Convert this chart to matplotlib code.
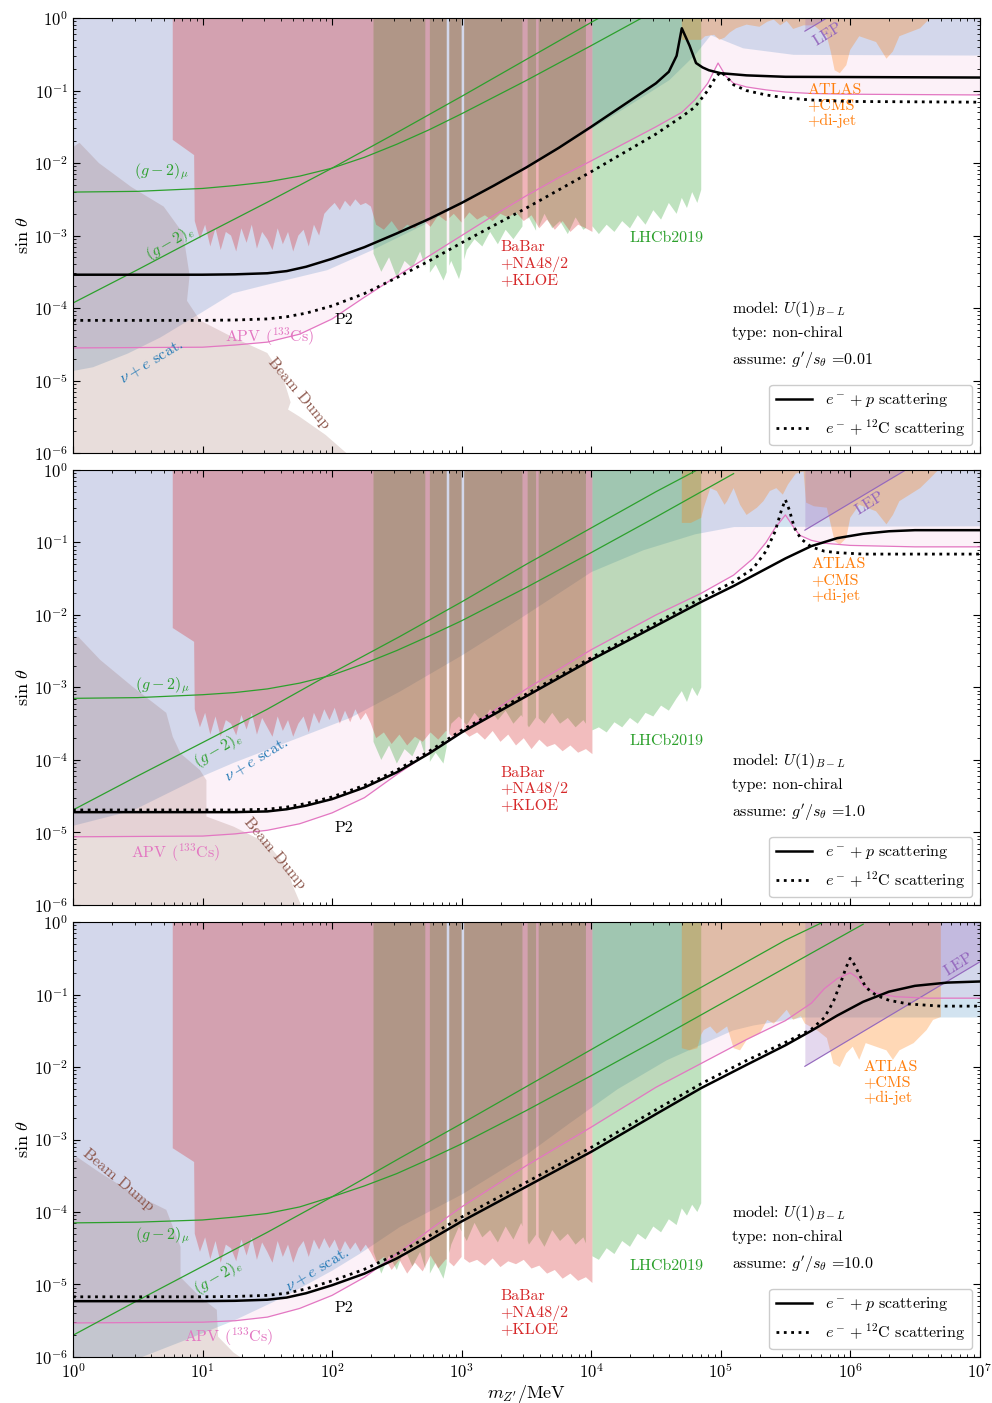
import numpy as np
import matplotlib
matplotlib.use("Agg")
import matplotlib.pyplot as plt

plt.rcParams['font.family'] = ['cmr10', 'DejaVu Serif']
plt.rcParams['mathtext.fontset'] = 'cm'
plt.rcParams['axes.formatter.use_mathtext'] = True
plt.rcParams['axes.unicode_minus'] = False

# all values are log10(m / MeV) and log10(sin theta)

couplings = ["0.01", "1.0", "10.0"]

# e- + p (solid) and e- + 12C (dotted) sensitivities
ep_x1 = [0, 1.0, 1.25, 1.5, 1.65, 1.8, 2.0, 2.25, 2.5, 2.75, 3.0, 3.25, 3.5, 3.75, 4.0, 4.2, 4.4, 4.5, 4.6, 4.66, 4.70, 4.76, 4.81, 4.86, 4.91, 5.0, 5.2, 5.5, 7]
ep_y1 = [-3.54, -3.54, -3.535, -3.52, -3.49, -3.43, -3.32, -3.16, -2.97, -2.77, -2.55, -2.31, -2.06, -1.79, -1.5, -1.26, -1.02, -0.90, -0.74, -0.52, -0.14, -0.38, -0.62, -0.68, -0.72, -0.76, -0.79, -0.81, -0.82]
ec_x1 = [0, 1.0, 1.25, 1.5, 1.65, 1.8, 2.0, 2.25, 2.5, 2.75, 3.0, 3.25, 3.5, 3.75, 4.0, 4.25, 4.5, 4.7, 4.8, 4.9, 4.96, 5.0, 5.04, 5.1, 5.2, 5.35, 5.5, 5.7, 6.0, 7]
ec_y1 = [-4.17, -4.17, -4.165, -4.15, -4.12, -4.07, -3.97, -3.80, -3.58, -3.35, -3.1, -2.86, -2.62, -2.37, -2.12, -1.86, -1.6, -1.36, -1.23, -1.0, -0.82, -0.74, -0.8, -0.92, -1.0, -1.06, -1.1, -1.13, -1.15, -1.16]

ep_x2 = [0, 1.0, 1.25, 1.5, 1.65, 1.8, 2.0, 2.25, 2.5, 2.75, 3.0, 3.5, 4.0, 4.5, 4.85, 5.1, 5.3, 5.5, 5.7, 5.9, 6.1, 6.3, 6.5, 7]
ep_y2 = [-4.72, -4.72, -4.72, -4.71, -4.68, -4.63, -4.54, -4.38, -4.17, -3.91, -3.62, -3.12, -2.62, -2.15, -1.82, -1.6, -1.41, -1.22, -1.05, -0.94, -0.88, -0.845, -0.83, -0.83]
ec_x2 = [0, 1.0, 1.25, 1.5, 1.65, 1.8, 2.0, 2.25, 2.5, 2.75, 3.0, 3.5, 4.0, 4.5, 4.85, 5.1, 5.25, 5.35, 5.42, 5.47, 5.50, 5.53, 5.57, 5.62, 5.7, 5.8, 5.9, 6.1, 7]
ec_y2 = [-4.69, -4.69, -4.69, -4.68, -4.65, -4.60, -4.51, -4.35, -4.14, -3.88, -3.59, -3.09, -2.59, -2.11, -1.77, -1.54, -1.36, -1.12, -0.85, -0.55, -0.41, -0.55, -0.8, -0.95, -1.06, -1.12, -1.14, -1.16, -1.16]

ep_x3 = [0, 1.0, 1.25, 1.5, 1.65, 1.8, 2.0, 2.25, 2.5, 2.75, 3.0, 3.5, 4.0, 4.5, 4.85, 5.2, 5.5, 5.7, 5.9, 6.1, 6.3, 6.5, 6.75, 7]
ep_y3 = [-5.23, -5.23, -5.225, -5.21, -5.18, -5.12, -5.01, -4.85, -4.64, -4.39, -4.13, -3.65, -3.17, -2.65, -2.29, -1.97, -1.70, -1.50, -1.29, -1.1, -0.96, -0.88, -0.835, -0.82]
ec_x3 = [0, 1.0, 1.25, 1.5, 1.65, 1.8, 2.0, 2.25, 2.5, 2.75, 3.0, 3.5, 4.0, 4.5, 4.85, 5.2, 5.5, 5.7, 5.8, 5.87, 5.93, 5.97, 6.0, 6.03, 6.07, 6.12, 6.2, 6.3, 6.45, 6.7, 7]
ec_y3 = [-5.17, -5.17, -5.165, -5.15, -5.12, -5.06, -4.95, -4.79, -4.58, -4.33, -4.07, -3.59, -3.11, -2.59, -2.23, -1.91, -1.66, -1.48, -1.32, -1.1, -0.82, -0.62, -0.5, -0.58, -0.72, -0.9, -1.01, -1.08, -1.13, -1.16, -1.16]

# APV (133Cs)
apv_x1 = [0, 1.0, 1.25, 1.5, 1.75, 2.0, 2.25, 2.5, 2.75, 3.0, 3.25, 3.5, 3.75, 4.0, 4.5, 4.7, 4.8, 4.9, 4.98, 5.04, 5.1, 5.2, 5.35, 5.5, 5.7, 6.0, 7]
apv_y1 = [-4.55, -4.54, -4.51, -4.47, -4.36, -4.15, -3.85, -3.56, -3.28, -3.0, -2.72, -2.45, -2.2, -1.97, -1.5, -1.3, -1.13, -0.9, -0.62, -0.8, -0.9, -0.95, -0.99, -1.02, -1.04, -1.05, -1.06]
apv_x2 = [0, 1.0, 1.25, 1.5, 1.75, 2.0, 2.25, 2.5, 2.75, 3.0, 3.5, 4.0, 4.5, 4.85, 5.1, 5.25, 5.35, 5.42, 5.50, 5.56, 5.61, 5.7, 5.8, 6.0, 6.5, 7]
apv_y2 = [-5.06, -5.05, -5.02, -4.97, -4.88, -4.73, -4.52, -4.2, -3.9, -3.62, -3.02, -2.48, -2.0, -1.7, -1.45, -1.22, -1.0, -0.8, -0.62, -0.78, -0.9, -0.97, -1.01, -1.04, -1.06, -1.06]
apv_x3 = [0, 1.0, 1.25, 1.5, 1.75, 2.0, 2.25, 2.5, 2.75, 3.0, 3.5, 4.0, 4.5, 4.85, 5.2, 5.5, 5.7, 5.8, 5.9, 6.0, 6.05, 6.1, 6.2, 6.35, 6.6, 7]
apv_y3 = [-5.53, -5.52, -5.5, -5.45, -5.33, -5.15, -4.9, -4.58, -4.25, -3.93, -3.36, -2.83, -2.28, -1.95, -1.62, -1.36, -1.12, -0.92, -0.78, -0.70, -0.76, -0.88, -0.98, -1.03, -1.05, -1.05]

# (g-2)_mu and (g-2)_e
g2mu_x1 = [0, 0.5, 1.0, 1.25, 1.5, 1.75, 2.0, 2.25, 2.5, 2.75, 3.0, 3.5, 4.0, 4.4]
g2mu_y1 = [-2.40, -2.39, -2.35, -2.31, -2.26, -2.18, -2.07, -1.92, -1.74, -1.54, -1.32, -0.86, -0.38, 0.01]
g2e_x1 = [0, 0.5, 1.0, 1.5, 2.0, 2.5, 3.0, 3.5, 4.0, 4.1]
g2e_y1 = [-3.93, -3.47, -3.0, -2.54, -2.07, -1.58, -1.08, -0.57, -0.06, 0.04]
g2mu_x2 = [0, 0.5, 1.0, 1.25, 1.5, 1.75, 2.0, 2.25, 2.5, 2.75, 3.0, 3.5, 4.0, 4.5, 5.1]
g2mu_y2 = [-3.15, -3.14, -3.10, -3.07, -3.02, -2.94, -2.83, -2.67, -2.49, -2.29, -2.08, -1.62, -1.14, -0.65, -0.05]
g2e_x2 = [0, 0.5, 1.0, 1.5, 2.0, 2.52, 3.0, 3.5, 4.0, 4.5, 4.85]
g2e_y2 = [-4.69, -4.22, -3.76, -3.30, -2.80, -2.30, -1.82, -1.3, -0.8, -0.3, 0.03]
g2mu_x3 = [0, 0.5, 1.0, 1.25, 1.5, 1.75, 2.0, 2.25, 2.5, 2.75, 3.0, 3.5, 4.0, 4.5, 5.0, 5.5, 6.1]
g2mu_y3 = [-4.15, -4.14, -4.11, -4.07, -4.02, -3.93, -3.79, -3.64, -3.47, -3.27, -3.06, -2.6, -2.12, -1.63, -1.13, -0.63, -0.03]
g2e_x3 = [0, 0.5, 1.0, 1.5, 2.0, 2.52, 3.0, 3.5, 4.0, 4.5, 5.0, 5.5, 5.85]
g2e_y3 = [-5.70, -5.22, -4.75, -4.28, -3.79, -3.26, -2.78, -2.27, -1.76, -1.25, -0.75, -0.25, 0.05]

# nu + e scattering: lower edge of excluded region
nue_x1 = [0, 0.15, 0.42, 0.67, 0.93, 1.23, 1.52, 1.96, 2.3, 2.7, 3.2, 3.7, 4.2, 4.6, 4.8, 4.92, 5.17, 5.56, 7]
nue_y1 = [-4.86, -4.81, -4.62, -4.40, -4.12, -3.79, -3.66, -3.47, -3.2, -2.85, -2.35, -1.85, -1.3, -0.85, -0.5, -0.23, -0.41, -0.5, -0.51]
nue_x2 = [0, 0.46, 0.98, 1.24, 1.75, 2.14, 2.52, 3.0, 3.4, 4.0, 4.4, 4.8, 5.1, 7]
nue_y2 = [-4.90, -4.69, -4.23, -4.03, -3.68, -3.41, -3.05, -2.55, -2.1, -1.4, -1.1, -0.88, -0.78, -0.77]
nue_x3 = [0, 0.52, 0.85, 1.24, 1.62, 2.0, 2.21, 2.52, 3.0, 3.5, 3.83, 4.2, 4.58, 5.09, 5.25, 5.63, 7]
nue_y3 = [-6.1, -6.0, -5.77, -5.49, -5.17, -4.8, -4.57, -4.2, -3.75, -3.2, -2.77, -2.3, -1.9, -1.49, -1.42, -1.31, -1.31]

# beam dump: upper edge
bd_x1 = [0, 0.05, 0.2, 0.45, 0.7, 0.85, 0.9, 0.88, 0.98, 1.23, 1.5, 1.62, 1.68, 1.66, 1.75, 1.95, 2.11]
bd_y1 = [-1.78, -1.72, -2.0, -2.33, -2.6, -2.97, -3.55, -3.9, -4.17, -4.4, -4.62, -4.95, -5.3, -5.4, -5.5, -5.75, -6.0]
bd_x2 = [0, 0.04, 0.21, 0.46, 0.72, 0.77, 0.83, 0.98, 1.03, 1.03, 1.24, 1.5, 1.65, 1.70, 1.76]
bd_y2 = [-2.32, -2.3, -2.62, -2.99, -3.35, -3.68, -3.91, -4.14, -4.28, -4.78, -4.92, -5.15, -5.48, -5.75, -6.0]
bd_x3 = [0, 0.03, 0.21, 0.46, 0.72, 0.77, 0.83, 0.83, 0.98, 1.11, 1.12, 1.24, 1.29]
bd_y3 = [-3.28, -3.24, -3.46, -3.74, -3.97, -4.2, -4.48, -4.9, -5.17, -5.35, -5.72, -5.94, -6.0]

# BaBar + NA48/2 + KLOE: step at the low-mass end, then jagged lower edge
bb_step1 = [-1.68, -1.89]
bb_step2 = [-2.18, -2.37]
bb_step3 = [-3.12, -3.31]
bb_x = [0.94, 0.98, 1.02, 1.06, 1.10, 1.14, 1.18, 1.22,
        1.26, 1.30, 1.34, 1.38, 1.42, 1.46, 1.50, 1.54,
        1.58, 1.62, 1.66, 1.70, 1.74, 1.78, 1.82, 1.86,
        1.90, 1.94, 1.98, 2.02, 2.06, 2.10, 2.14, 2.18,
        2.22, 2.26, 2.30, 2.34, 2.40, 2.46, 2.52, 2.58,
        2.64, 2.70, 2.76, 2.82, 2.88, 2.94, 3.00, 3.06,
        3.12, 3.18, 3.24, 3.30, 3.36, 3.42, 3.48, 3.54,
        3.60, 3.66, 3.72, 3.78, 3.84, 3.90, 3.96, 4.01]
bb_y1 = [-2.80, -3.05, -2.85, -3.15, -2.90, -3.20, -2.95, -3.00,
         -3.22, -2.90, -3.10, -2.85, -3.18, -2.95, -3.05, -3.20,
         -2.90, -3.12, -2.95, -3.22, -3.00, -2.92, -3.15, -2.85,
         -3.00, -2.70, -2.62, -2.55, -2.65, -2.52, -2.60, -2.50,
         -2.58, -2.55, -2.60, -2.85, -2.92, -2.80, -2.95, -2.85,
         -2.90, -2.78, -2.88, -2.72, -2.80, -2.70, -2.82, -2.68,
         -2.78, -2.72, -2.80, -2.70, -2.75, -2.68, -2.80, -2.72,
         -2.90, -2.78, -2.92, -2.80, -2.95, -2.85, -2.90, -2.95]
bb_y2 = [-3.30, -3.55, -3.35, -3.65, -3.40, -3.68, -3.45, -3.50,
         -3.66, -3.38, -3.58, -3.35, -3.65, -3.42, -3.55, -3.68,
         -3.40, -3.60, -3.45, -3.68, -3.50, -3.40, -3.62, -3.35,
         -3.50, -3.30, -3.45, -3.28, -3.50, -3.32, -3.48, -3.30,
         -3.45, -3.35, -3.50, -3.70, -3.62, -3.78, -3.65, -3.80,
         -3.68, -3.75, -3.62, -3.72, -3.60, -3.70, -3.58, -3.68,
         -3.62, -3.72, -3.60, -3.75, -3.65, -3.80, -3.70, -3.85,
         -3.72, -3.82, -3.78, -3.88, -3.80, -3.90, -3.85, -3.92]
bb_y3 = [-4.30, -4.55, -4.35, -4.65, -4.40, -4.70, -4.45, -4.50,
         -4.68, -4.38, -4.60, -4.35, -4.66, -4.42, -4.55, -4.70,
         -4.40, -4.62, -4.45, -4.70, -4.50, -4.40, -4.62, -4.38,
         -4.52, -4.36, -4.50, -4.38, -4.56, -4.40, -4.52, -4.42,
         -4.55, -4.45, -4.56, -4.70, -4.62, -4.80, -4.66, -4.85,
         -4.70, -4.82, -4.60, -4.78, -4.65, -4.75, -4.62, -4.70,
         -4.66, -4.74, -4.64, -4.76, -4.68, -4.72, -4.66, -4.78,
         -4.74, -4.85, -4.80, -4.92, -4.85, -4.95, -4.90, -4.98]
bb_gaps = [(2.885, 2.905), (3.0, 3.02)]

# LHCb 2019: jagged lower edge
lh_x = [2.32, 2.38, 2.44, 2.50, 2.56, 2.62, 2.68, 2.74,
        2.80, 2.86, 2.92, 2.98, 3.04, 3.10, 3.16, 3.22,
        3.28, 3.34, 3.40, 3.46, 3.52, 3.58, 3.64, 3.70,
        3.76, 3.82, 3.88, 3.94, 4.00, 4.06, 4.12, 4.18,
        4.24, 4.30, 4.36, 4.42, 4.48, 4.54, 4.60, 4.66,
        4.70, 4.74, 4.78, 4.82, 4.85]
lh_y1 = [-3.25, -3.50, -3.30, -3.58, -3.35, -3.45, -3.22, -3.55,
         -3.40, -3.62, -3.35, -3.60, -3.20, -3.05, -3.15, -2.95,
         -3.12, -2.92, -3.05, -2.90, -2.75, -2.95, -2.70, -2.90,
         -2.80, -2.98, -2.75, -2.92, -2.85, -2.98, -2.85, -2.95,
         -2.80, -2.90, -2.72, -2.85, -2.65, -2.78, -2.55, -2.70,
         -2.48, -2.62, -2.40, -2.55, -2.37]
lh_y2 = [-3.75, -4.00, -3.80, -4.05, -3.85, -3.95, -3.72, -4.07,
         -3.90, -4.05, -3.50, -3.40, -3.52, -3.35, -3.48, -3.30,
         -3.45, -3.32, -3.50, -3.38, -3.55, -3.40, -3.50, -3.35,
         -3.50, -3.42, -3.55, -3.45, -3.60, -3.55, -3.62, -3.48,
         -3.55, -3.42, -3.50, -3.35, -3.40, -3.25, -3.32, -3.15,
         -3.05, -3.20, -3.00, -3.12, -3.00]
lh_y3 = [-4.55, -4.85, -4.60, -4.80, -4.50, -4.75, -4.55, -4.90,
         -4.70, -4.92, -4.45, -4.20, -4.40, -4.15, -4.35, -4.25,
         -4.42, -4.20, -4.38, -4.15, -4.45, -4.30, -4.48, -4.25,
         -4.40, -4.30, -4.45, -4.35, -4.60, -4.66, -4.50, -4.58,
         -4.40, -4.48, -4.30, -4.38, -4.20, -4.28, -4.10, -4.18,
         -3.95, -4.05, -3.90, -4.00, -3.88]
lh_gaps = [(2.72, 2.755), (2.885, 2.905), (3.0, 3.02), (3.47, 3.51), (3.575, 3.595), (3.96, 4.01)]

# ATLAS + CMS + di-jet: lower edge
at_x1 = [4.70, 4.85, 4.88, 4.95, 4.99, 5.03, 5.07, 5.12, 5.2, 5.3, 5.36, 5.41, 5.46, 5.51, 5.56, 5.64,
         5.72, 5.82, 5.85, 5.88, 5.92, 5.97, 6.0, 6.07, 6.2, 6.28, 6.33, 6.38, 6.54, 6.59, 6.62]
at_y1 = [-0.3, -0.3, -0.25, -0.23, -0.30, -0.27, -0.2, -0.14, -0.09, -0.12, -0.05, -0.02, -0.1, -0.04, -0.15, -0.1,
         -0.1, -0.25, -0.46, -0.72, -0.76, -0.65, -0.44, -0.25, -0.33, -0.56, -0.46, -0.25, -0.14, -0.05, 0.0]
at_x2 = [4.70, 4.77, 4.85, 4.87, 4.92, 4.97, 5.03, 5.05, 5.10, 5.15, 5.2, 5.28, 5.33, 5.38, 5.43, 5.48, 5.52, 5.58, 5.64,
         5.66, 5.72, 5.82, 5.85, 5.88, 5.92, 5.97, 6.0, 6.07, 6.2, 6.28, 6.33, 6.38, 6.54, 6.62, 6.68]
at_y2 = [-0.73, -0.73, -0.66, -0.52, -0.25, -0.29, -0.48, -0.43, -0.25, -0.48, -0.62, -0.52, -0.43, -0.29, -0.25, -0.34, -0.2, -0.05, -0.02,
         -0.45, -0.5, -0.52, -0.75, -0.98, -1.03, -0.94, -0.66, -0.48, -0.57, -0.75, -0.62, -0.43, -0.25, -0.11, 0.0]
at_x3 = [4.70, 4.76, 4.82, 4.85, 4.87, 4.92, 4.97, 5.01, 5.05, 5.10, 5.15, 5.2, 5.3, 5.36, 5.41, 5.46, 5.51, 5.56, 5.62,
         5.65, 5.75, 5.82, 5.85, 5.87, 5.92, 5.97, 6.02, 6.07, 6.12, 6.2, 6.28, 6.33, 6.38, 6.49, 6.59, 6.64, 6.70]
at_y3 = [-1.74, -1.77, -1.74, -1.55, -1.49, -1.44, -1.54, -1.49, -1.44, -1.74, -1.77, -1.63, -1.54, -1.35, -1.4, -1.31, -1.21, -1.35, -1.3,
         -1.4, -1.5, -1.6, -1.81, -1.95, -2.0, -1.81, -1.72, -1.9, -1.67, -1.72, -1.77, -1.9, -1.77, -1.67, -1.49, -1.35, -1.31]

# LEP: lower edge is a straight line from 5.65 to 7
lep_x = [5.65, 7.0]
lep_y1 = [-0.18, 1.26]
lep_y2 = [-0.83, 0.61]
lep_y3 = [-1.99, -0.55]

panels = [
    dict(ep=(ep_x1, ep_y1), ec=(ec_x1, ec_y1), apv=(apv_x1, apv_y1), g2mu=(g2mu_x1, g2mu_y1), g2e=(g2e_x1, g2e_y1),
         nue=(nue_x1, nue_y1), bd=(bd_x1, bd_y1), bb=(bb_step1, bb_y1), lh=lh_y1, at=(at_x1, at_y1), lep=lep_y1),
    dict(ep=(ep_x2, ep_y2), ec=(ec_x2, ec_y2), apv=(apv_x2, apv_y2), g2mu=(g2mu_x2, g2mu_y2), g2e=(g2e_x2, g2e_y2),
         nue=(nue_x2, nue_y2), bd=(bd_x2, bd_y2), bb=(bb_step2, bb_y2), lh=lh_y2, at=(at_x2, at_y2), lep=lep_y2),
    dict(ep=(ep_x3, ep_y3), ec=(ec_x3, ec_y3), apv=(apv_x3, apv_y3), g2mu=(g2mu_x3, g2mu_y3), g2e=(g2e_x3, g2e_y3),
         nue=(nue_x3, nue_y3), bd=(bd_x3, bd_y3), bb=(bb_step3, bb_y3), lh=lh_y3, at=(at_x3, at_y3), lep=lep_y3),
]

# label positions (log10 coords) for each panel
labels = [
    dict(g2mu=(0.47, -2.12), g2e=(0.75, -3.1, 30), nue=(0.61, -4.74, 31), apv=(1.52, -4.39), bdump=(1.74, -5.17, -50),
         p2=(2.02, -4.17), babar=(3.30, -3.39), lhcb=(4.30, -3.03), atlas=(5.67, -1.21), lep=(5.83, -0.22)),
    dict(g2mu=(0.48, -2.97), g2e=(1.12, -3.86, 30), nue=(1.42, -4.0, 31), apv=(0.79, -5.28), bdump=(1.56, -5.28, -50),
         p2=(2.02, -4.94), babar=(3.30, -4.40), lhcb=(4.30, -3.74), atlas=(5.70, -1.52), lep=(6.15, -0.46)),
    dict(g2mu=(0.48, -4.32), g2e=(1.12, -4.9, 30), nue=(1.89, -4.8, 31), apv=(1.20, -5.72), bdump=(0.35, -3.56, -40),
         p2=(2.02, -5.32), babar=(3.30, -5.39), lhcb=(4.30, -4.74), atlas=(6.10, -2.22), lep=(6.84, -0.58)),
]


def P(v):
    return 10.0 ** np.asarray(v, dtype=float)


def fill_columns(ax, xs, ys, gaps, top=1.0, **kw):
    xs = np.asarray(xs, float)
    ys = np.asarray(ys, float)
    cuts = [xs[0]] + [c for g in gaps for c in g] + [xs[-1]]
    for a, b in zip(cuts[0::2], cuts[1::2]):
        m = (xs > a) & (xs < b)
        px = np.concatenate([[a, a], xs[m], [b, b]])
        py = np.concatenate([[top, np.interp(a, xs, ys)], ys[m], [np.interp(b, xs, ys), top]])
        ax.fill(P(px), P(py), lw=0, **kw)


fig = plt.figure(figsize=(9.92, 14.03), dpi=100)
bottoms = [0.6771, 0.355, 0.0328]
C = plt.get_cmap('tab10').colors
blue, orange, green, red, purple, brown, pink = C[0], C[1], C[2], C[3], C[4], C[5], C[6]

for i, (pan, lab, b) in enumerate(zip(panels, labels, bottoms)):
    ax = fig.add_axes([0.0736, b, 0.914, 0.31])
    ax.set_xscale('log')
    ax.set_yscale('log')

    # nu + e scattering
    nx, ny = pan['nue']
    ax.fill_between(P(nx), P(ny), 10, color=blue, alpha=0.2, lw=0)
    # APV
    ax_, ay_ = pan['apv']
    ax.fill_between(P(ax_), P(ay_), 10, color=pink, alpha=0.1, lw=0)
    # beam dump
    bx, by = pan['bd']
    ax.fill(P([-0.1] + bx + [bx[-1], -0.1]), P([by[0]] + by + [-7, -7]), color=brown, alpha=0.2, lw=0)
    # LHCb
    fill_columns(ax, lh_x, pan['lh'], lh_gaps, color=green, alpha=0.3)
    # BaBar
    step, bby = pan['bb']
    fill_columns(ax, [0.77, 0.935] + bb_x, step + bby, bb_gaps, color=red, alpha=0.3)
    # ATLAS
    tx, ty = pan['at']
    ax.fill(P([tx[0]] + tx + [tx[-1]]), P([1] + ty + [1]), color=orange, alpha=0.3, lw=0)
    # LEP
    ax.fill_between(P(lep_x), P(pan['lep']), 10, color=purple, alpha=0.25, lw=0)
    ax.plot(P(lep_x), P(pan['lep']), color=purple, lw=0.8)

    # lines
    ax.plot(P(ax_), P(ay_), color=pink, lw=0.9)
    ax.plot(P(pan['g2mu'][0]), P(pan['g2mu'][1]), color=green, lw=0.9)
    ax.plot(P(pan['g2e'][0]), P(pan['g2e'][1]), color=green, lw=0.9)
    l1, = ax.plot(P(pan['ep'][0]), P(pan['ep'][1]), color='k', lw=1.8, zorder=5)
    l2, = ax.plot(P(pan['ec'][0]), P(pan['ec'][1]), color='k', lw=2.0, ls=':', zorder=5)

    # labels
    fs = 11.5
    x, y = lab['g2mu']
    ax.text(P(x), P(y), r'$(g-2)_\mu$', color=green, fontsize=fs, va='center')
    x, y, r = lab['g2e']
    ax.text(P(x), P(y), r'$(g-2)_e$', color=green, fontsize=fs, rotation=r, ha='center', va='center')
    x, y, r = lab['nue']
    ax.text(P(x), P(y), r'$\nu+e$ scat.', color=blue, fontsize=fs, rotation=r, ha='center', va='center')
    x, y = lab['apv']
    ax.text(P(x), P(y), r'APV ($^{133}$Cs)', color=pink, fontsize=fs, ha='center', va='center')
    x, y, r = lab['bdump']
    ax.text(P(x), P(y), 'Beam Dump', color=brown, fontsize=fs, rotation=r, ha='center', va='center')
    x, y = lab['p2']
    ax.text(P(x), P(y), 'P2', color='k', fontsize=fs, va='center')
    x, y = lab['babar']
    ax.text(P(x), P(y), 'BaBar\n+NA48/2\n+KLOE', color=red, fontsize=fs, va='center', linespacing=1.15)
    x, y = lab['lhcb']
    ax.text(P(x), P(y), 'LHCb2019', color=green, fontsize=fs, va='center')
    x, y = lab['atlas']
    ax.text(P(x), P(y), 'ATLAS\n+CMS\n+di-jet', color=orange, fontsize=fs, va='center', linespacing=1.15)
    x, y = lab['lep']
    ax.text(P(x), P(y), 'LEP', color=purple, fontsize=fs, rotation=32, ha='center', va='center')

    ax.text(0.727, 0.331, r'model: $U(1)_{B-L}$', transform=ax.transAxes, fontsize=11.5, va='center')
    ax.text(0.727, 0.276, 'type: non-chiral', transform=ax.transAxes, fontsize=11.5, va='center')
    ax.text(0.727, 0.212, r"assume: $g'/s_\theta$ =" + couplings[i], transform=ax.transAxes, fontsize=11.5, va='center')

    ax.legend([l1, l2], [r'$e^-+p$ scattering', r'$e^-+{}^{12}$C scattering'], loc='lower right',
              fontsize=11.5, handlelength=2.3, fancybox=True, edgecolor='0.8', framealpha=1, borderaxespad=0.5)

    ax.set_xlim(1, 1e7)
    ax.set_ylim(1e-6, 1)
    ax.tick_params(which='both', direction='in', top=True, right=True, labelsize=12)
    ax.tick_params(which='major', length=5)
    ax.tick_params(which='minor', length=2.5)
    ax.set_ylabel(r'$\sin\,\theta$', fontsize=13, labelpad=2)
    if i < 2:
        ax.tick_params(labelbottom=False)
    else:
        ax.set_xlabel(r"$m_{Z'}/\mathrm{MeV}$", fontsize=13, labelpad=1)

fig.savefig('out.png', dpi=100)
